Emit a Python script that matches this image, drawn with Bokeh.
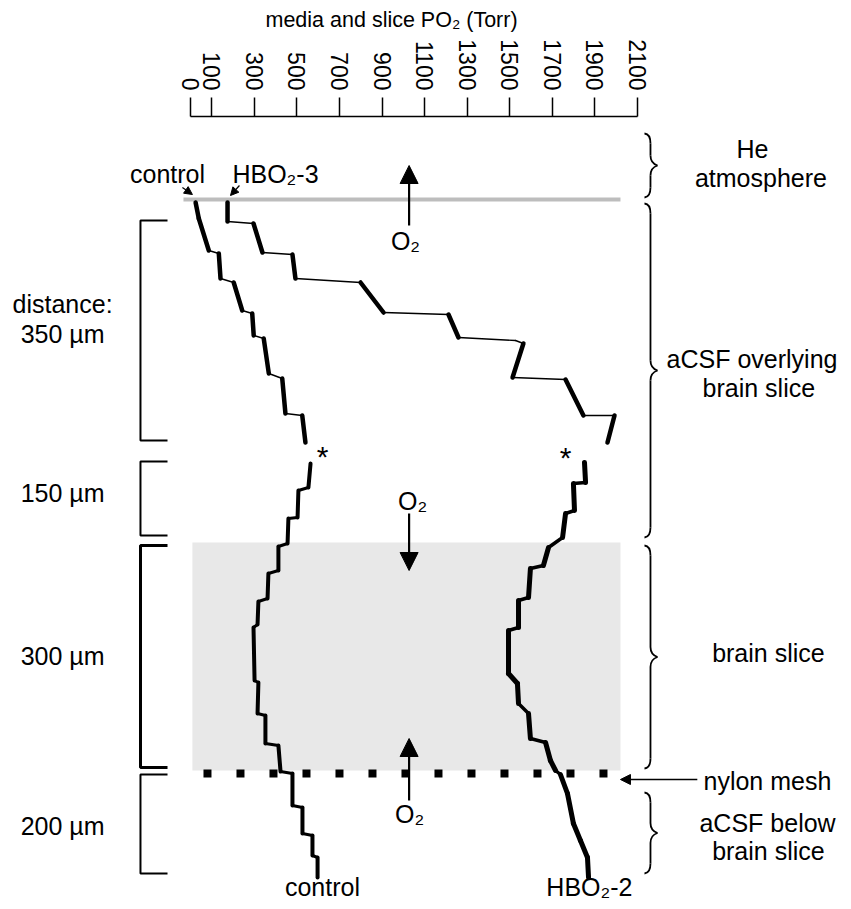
import math
from bokeh.plotting import figure
from bokeh.models import Range1d, FixedTicker, Arrow, NormalHead
from bokeh.core.properties import value
from bokeh.embed import file_html
from bokeh.resources import INLINE

FONT = "Liberation Sans"

# ---------------- data ----------------
# top axis ticks (Torr)
tick_values = [0, 100, 300, 500, 700, 900, 1100, 1300, 1500, 1700, 1900, 2100]

# depth in plot units (0 = He / aCSF interface, increasing downward)
# control, aCSF overlying the slice
control_upper_po2 = [24, 39, 86, 133, 141, 203, 243, 290, 297, 344, 368, 431, 446, 525, 540]
control_upper_depth = [3, 19, 51, 54, 79, 83, 111, 114, 136, 139, 174, 179, 214, 216, 243]

# HBO2-3, aCSF overlying the slice
hbo3_po2 = [174, 174, 296, 338, 479, 493, 799, 907, 1212, 1259, 1527, 1564, 1513, 1762, 1846, 1992, 1959]
hbo3_depth = [3, 22, 24, 53, 55, 79, 83, 113, 115, 138, 141, 144, 178, 180, 216, 216, 243]

# control, deeper part (aCSF -> slice -> aCSF below)
control_lower_po2 = [564, 554, 507, 503, 460, 456, 413, 413, 366, 362, 319, 315, 296, 301,
                     319, 315, 352, 352, 413, 423, 479, 479, 526, 526, 573, 573, 597, 597]
control_lower_depth = [264, 288, 291, 318, 319, 344, 347, 371, 374, 399, 402, 425, 428, 481,
                       483, 514, 516, 544, 546, 572, 574, 606, 608, 634, 636, 656, 658, 678]

# HBO2-2, deeper part
hbo2_po2 = [1851, 1856, 1799, 1804, 1762, 1748, 1682, 1658, 1597, 1588, 1541, 1541, 1494, 1494,
            1536, 1541, 1588, 1597, 1668, 1691, 1715, 1738, 1771, 1799, 1832, 1865, 1870]
hbo2_depth = [263, 283, 284, 311, 314, 338, 348, 366, 369, 398, 401, 428, 431, 474,
              484, 504, 514, 539, 543, 561, 571, 575, 594, 624, 641, 658, 678]

# layers (depth ranges)
layer_names = ["He atmosphere", "aCSF overlying brain slice", "brain slice", "aCSF below brain slice"]
layer_top = [-66, 4, 346, 593]
layer_bottom = [-2, 338, 569, 674]

# distance brackets
dist_labels = ["350 µm", "150 µm", "300 µm", "200 µm"]
dist_top = [21, 262, 346, 575]
dist_bottom = [241, 336, 568, 674]

slice_top, slice_bottom = 343, 571
mesh_depth = 574

# ---------------- geometry helpers (styling) ----------------
PX_PER_TORR = 447.0 / 2100.0
TP = 1.0 / PX_PER_TORR  # Torr per screen pixel

p = figure(width=843, height=901,
           x_range=Range1d(-892.6, 3067.8), y_range=Range1d(702, -83),
           x_axis_location="above", y_axis_location=None,
           output_backend="svg", toolbar_location=None, min_border=0,
           min_border_top=116,
           title="media and slice PO₂ (Torr)")
p.grid.visible = False
p.outline_line_color = None
p.background_fill_color = "white"
p.border_fill_color = "white"

p.title.align = "left"
p.title.offset = 265
p.title.text_font = FONT
p.title.text_font_size = "21.5px"
p.title.text_font_style = "normal"
p.title.text_color = "black"

ax = p.xaxis[0]
ax.ticker = FixedTicker(ticks=tick_values)
ax.bounds = (0, 2100)
ax.major_tick_out = 19
ax.major_tick_in = 0
ax.minor_tick_out = 0
ax.minor_tick_in = 0
ax.major_label_orientation = -math.pi / 2
ax.major_label_standoff = 7
ax.major_label_text_font = FONT
ax.major_label_text_font_size = "23px"
ax.major_label_text_color = "black"
ax.axis_line_width = 1.5
ax.major_tick_line_width = 1.5
ax.axis_line_color = "black"
ax.major_tick_line_color = "black"

# brain slice shading
p.quad(left=9, right=2020, top=slice_top, bottom=slice_bottom,
       fill_color="#e8e8e8", line_color=None)

# He / aCSF interface
p.segment(x0=[-33], y0=[0], x1=[2020], y1=[0], line_color="#bdbdbd", line_width=4)

# nylon mesh
p.line(x=[61, 1978], y=[mesh_depth, mesh_depth], line_color="black", line_width=8,
       line_dash="8 25", line_cap="butt")


def draw_curve(po2, depth, w_vert, w_horiz):
    x0, y0, x1, y1, w = [], [], [], [], []
    for i in range(len(po2) - 1):
        dxp = abs(po2[i + 1] - po2[i]) * PX_PER_TORR
        dyp = abs(depth[i + 1] - depth[i])
        x0.append(po2[i]); y0.append(depth[i])
        x1.append(po2[i + 1]); y1.append(depth[i + 1])
        w.append(w_vert if dyp >= dxp else w_horiz)
    p.segment(x0=x0, y0=y0, x1=x1, y1=y1, line_width=w, line_color="black", line_cap="round")


draw_curve(control_upper_po2, control_upper_depth, 4.5, 1.4)
draw_curve(hbo3_po2, hbo3_depth, 4.5, 1.4)
draw_curve(control_lower_po2, control_lower_depth, 4, 3)
draw_curve(hbo2_po2, hbo2_depth, 5, 3.5)

# left distance brackets
bx_v = -235
bx_arm = -108
for t, b, lab in zip(dist_top, dist_bottom, dist_labels):
    lw = 3 if lab == "300 µm" else 2
    p.line(x=[bx_arm, bx_v, bx_v, bx_arm], y=[t, t, b, b], line_color="black", line_width=lw)

p.text(x=[-601] * 5, y=[104, 134, 293, 456, 626],
       text=["distance:", dist_labels[0], dist_labels[1], dist_labels[2], dist_labels[3]],
       text_font=value(FONT), text_font_size="25px", text_align="center",
       text_baseline="middle", text_color="black")

# right braces


def brace(top, bot, xb):
    mid = (top + bot) / 2.0

    def X(dx):
        return xb + dx * TP
    p.bezier(x0=[X(-6), X(0), X(7), X(0)], y0=[top, mid - 10, mid, bot - 10],
             x1=[X(0), X(7), X(0), X(-6)], y1=[top + 10, mid, mid + 10, bot],
             cx0=[X(-1), X(0), X(4), X(0)], cy0=[top + 0.5, mid - 4, mid + 1, bot - 5],
             cx1=[X(0), X(4), X(0), X(-1)], cy1=[top + 5, mid - 1, mid + 4, bot - 0.5],
             line_color="black", line_width=1.8)
    p.segment(x0=[X(0), X(0)], y0=[top + 10, mid + 10], x1=[X(0), X(0)], y1=[mid - 10, bot - 10],
              line_color="black", line_width=1.8)


for t, b in zip(layer_top, layer_bottom):
    brace(t, b, 2161)

p.text(x=[2640, 2680, 2638, 2670, 2715, 2711, 2715],
       y=[-51, -22, 159, 188, 453, 623, 651],
       text=["He", "atmosphere", "aCSF overlying", "brain slice", "brain slice",
             "aCSF below", "brain slice"],
       text_font=value(FONT), text_font_size="25px", text_align="center",
       text_baseline="middle", text_color="black")
p.text(x=[2410], y=[581], text=["nylon mesh"], text_font=value(FONT), text_font_size="25px",
       text_align="left", text_baseline="middle", text_color="black")
p.add_layout(Arrow(end=NormalHead(size=10, fill_color="black", line_color="black"),
                   x_start=2381, y_start=580, x_end=2020, y_end=580,
                   line_color="black", line_width=1.3))

# O2 diffusion arrows
for ys, ye in [(26, -34), (314, 371), (601, 539)]:
    p.add_layout(Arrow(end=NormalHead(size=18, fill_color="black", line_color="black"),
                       x_start=1027, y_start=ys, x_end=1027, y_end=ye,
                       line_color="black", line_width=2.2))
p.text(x=[1010, 1043, 1029], y=[41, 301, 614], text=["O₂", "O₂", "O₂"],
       text_font=value(FONT), text_font_size="25px", text_align="center",
       text_baseline="middle", text_color="black")

# curve labels
p.text(x=[-108], y=[-26], text=["control"], text_font=value(FONT), text_font_size="25px",
       text_align="center", text_baseline="middle", text_color="black")
p.text(x=[197], y=[-26], text=["HBO₂-3"], text_font=value(FONT), text_font_size="25px",
       text_align="left", text_baseline="middle", text_color="black")
p.text(x=[620, 1874], y=[687, 687], text=["control", "HBO₂-2"], text_font=value(FONT),
       text_font_size="25px", text_align="center", text_baseline="middle", text_color="black")
p.add_layout(Arrow(end=NormalHead(size=8, fill_color="black", line_color="black"),
                   x_start=-38, y_start=-12, x_end=9, y_end=-5, line_color="black", line_width=1.2))
p.add_layout(Arrow(end=NormalHead(size=8, fill_color="black", line_color="black"),
                   x_start=230, y_start=-14, x_end=188, y_end=-4, line_color="black", line_width=1.2))

# discontinuity asterisks
p.text(x=[620, 1762], y=[257, 258], text=["*", "*"], text_font=value(FONT),
       text_font_size="30px", text_align="center", text_baseline="middle", text_color="black")

open("out.html", "w").write(file_html(p, INLINE))
